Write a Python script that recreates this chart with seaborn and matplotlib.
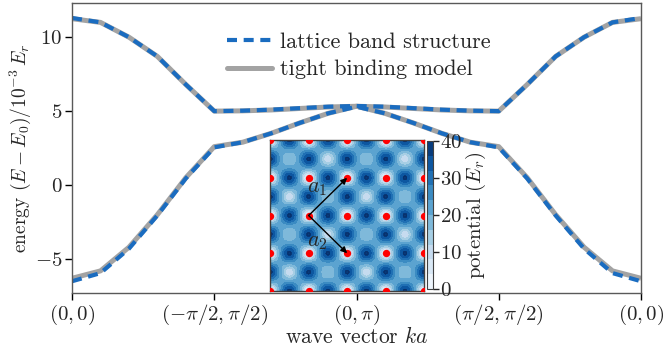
import numpy as np
import matplotlib
matplotlib.use("Agg")
import matplotlib.pyplot as plt
import seaborn as sns
from matplotlib.lines import Line2D

# band structure along the path (0,0) -> (-pi/2,pi/2) -> (0,pi) -> (pi/2,pi/2) -> (0,0)
k_path = [0.0, 0.2, 0.4, 0.6, 0.8, 1.0, 1.2, 1.4, 1.6, 1.8, 2.0,
          2.2, 2.4, 2.6, 2.8, 3.0, 3.2, 3.4, 3.6, 3.8, 4.0]

tb_upper = [11.25, 11.0, 10.0, 8.7, 6.8, 5.0, 5.02, 5.08, 5.18, 5.28, 5.33,
            5.28, 5.18, 5.08, 5.02, 5.0, 6.8, 8.7, 10.0, 11.0, 11.25]
tb_lower = [-6.3, -5.8, -4.2, -2.0, 0.5, 2.6, 2.9, 3.5, 4.2, 4.85, 5.33,
            4.85, 4.2, 3.5, 2.9, 2.6, 0.5, -2.0, -4.2, -5.8, -6.3]

lat_upper = [11.3, 11.0, 10.0, 8.7, 6.8, 5.0, 5.03, 5.1, 5.2, 5.3, 5.35,
             5.3, 5.2, 5.1, 5.03, 5.0, 6.8, 8.7, 10.0, 11.0, 11.3]
lat_lower = [-6.5, -5.95, -4.3, -2.05, 0.45, 2.55, 2.9, 3.5, 4.2, 4.85, 5.3,
             4.85, 4.2, 3.5, 2.9, 2.55, 0.45, -2.05, -4.3, -5.95, -6.5]

tick_pos = [0, 1, 2, 3, 4]
tick_labels = [r"$(0,0)$", r"$(-\pi/2,\pi/2)$", r"$(0,\pi)$",
               r"$(\pi/2,\pi/2)$", r"$(0,0)$"]

# lattice sites shown in the inset (units of half the site spacing)
site_coords = [0, 2, 4, 6, 8]
cbar_ticks = [0, 10, 20, 30, 40]

blue = "#1a6cc0"
gray = "#a3a3a3"

sns.set_style("ticks")
plt.rcParams["font.family"] = "serif"
plt.rcParams["font.serif"] = ["cmr10"]
plt.rcParams["mathtext.fontset"] = "cm"
plt.rcParams["axes.formatter.use_mathtext"] = True

fig = plt.figure(figsize=(6.67, 3.51), dpi=100)
ax = fig.add_axes([0.108, 0.165, 0.853, 0.826])

for band in (tb_upper, tb_lower):
    sns.lineplot(x=k_path, y=band, ax=ax, color=gray, lw=3.6, solid_capstyle="butt")
for band in (lat_upper, lat_lower):
    sns.lineplot(x=k_path, y=band, ax=ax, color=blue, lw=3.0,
                 linestyle=(0, (2.4, 1.6)))

ax.set_xlim(0, 4)
ax.set_ylim(-7.3, 12.3)
ax.set_xticks(tick_pos)
ax.set_xticklabels(tick_labels)
ax.set_yticks([-5, 0, 5, 10])
ax.tick_params(axis="both", labelsize=15, length=5, width=1, color="k", pad=2)
for sp in ax.spines.values():
    sp.set_color("0.35")
    sp.set_linewidth(1)
ax.set_xlabel(r"wave vector $ka$", fontsize=15.5, labelpad=-1)
ax.set_ylabel(r"energy $(E-E_0)/10^{-3}\,E_r$", fontsize=14, labelpad=1)

handles = [Line2D([], [], color=blue, lw=3.0, linestyle=(0, (2.4, 1.6))),
           Line2D([], [], color=gray, lw=3.6)]
ax.legend(handles, ["lattice band structure", "tight binding model"],
          loc="upper left", bbox_to_anchor=(0.238, 0.968), frameon=False,
          handlelength=2.0, handletextpad=0.35, labelspacing=0.35, fontsize=16)

# inset: optical lattice potential, built from localized bumps
ax_in = fig.add_axes([0.405, 0.171, 0.231, 0.430])
g = np.linspace(0, 8, 401)
X, Y = np.meshgrid(g, g)
p = (1 - np.cos(np.pi * X)) / 2
q = (1 - np.cos(np.pi * Y)) / 2
s = np.sin(np.pi * X / 2) * np.sin(np.pi * Y / 2)
wells = (p * (1 - q)) ** 2.5 + ((1 - p) * q) ** 2.5
sites = ((1 - p) * (1 - q)) ** 3
centres = (p * q) ** 3
V = (21 + 16 * wells - 21 * sites
     - 13 * centres * (1 + s) / 2 - 4 * centres * (1 - s) / 2)
cf = ax_in.contourf(X, Y, V, levels=np.linspace(0, 40, 11), cmap="Blues")
ax_in.contour(X, Y, V, levels=[36.4], colors="#08306b", linewidths=0.8)
sx, sy = np.meshgrid(site_coords, site_coords)
ax_in.scatter(sx.ravel(), sy.ravel(), s=28, color="red", zorder=3, lw=0)
for tip in [(4, 6), (4, 2)]:
    ax_in.annotate("", xy=tip, xytext=(2, 4),
                   arrowprops=dict(arrowstyle="-|>", color="k", lw=1,
                                   mutation_scale=9, shrinkA=0, shrinkB=0))
ax_in.text(2.45, 5.45, r"$a_1$", fontsize=16, ha="center", va="center")
ax_in.text(2.45, 2.6, r"$a_2$", fontsize=16, ha="center", va="center")
ax_in.set_xlim(0, 8)
ax_in.set_ylim(0, 8)
ax_in.set_xticks([])
ax_in.set_yticks([])
for sp in ax_in.spines.values():
    sp.set_color("0.25")
    sp.set_linewidth(1)

cax = fig.add_axes([0.640, 0.177, 0.0097, 0.421])
cb = fig.colorbar(cf, cax=cax, ticks=cbar_ticks)
cb.ax.tick_params(labelsize=15, length=4, width=1, pad=1)
cb.set_label(r"potential ($E_r$)", fontsize=15, labelpad=1)
cb.outline.set_edgecolor("0.25")

fig.savefig("out.png", dpi=100)
